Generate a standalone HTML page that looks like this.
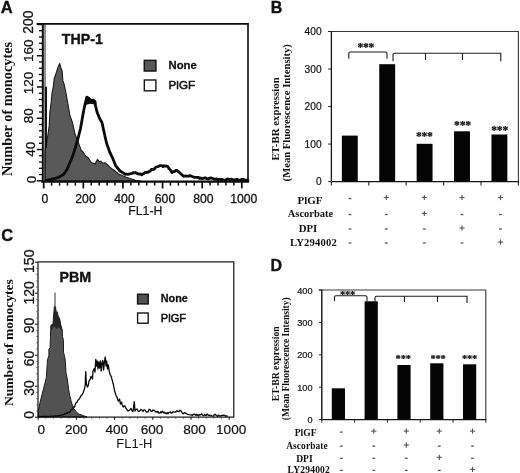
<!DOCTYPE html><html><head><meta charset="utf-8"><style>
html,body{margin:0;padding:0;background:#fff;overflow:hidden;}
svg{display:block;opacity:0.999;will-change:transform;}
text{font-family:"Liberation Sans",sans-serif;fill:#111;}
.s{font-family:"Liberation Serif",serif;font-weight:bold;}
.b{font-weight:bold;}
</style></head><body>
<svg width="520" height="473" viewBox="0 0 520 473">
<rect x="0" y="0" width="520" height="473" fill="#fff"/>
<g id="pA">
<text x="0.8" y="12.9" class="b" font-size="16.5" stroke="#111" stroke-width="0.35">A</text>
<polygon points="45.0,181.0 45.0,150.0 46.3,144.9 47.6,137.0 49.2,125.9 49.9,112.0 51.2,102.0 52.0,93.0 53.3,86.7 54.2,78.5 56.5,72.1 57.8,67.7 59.7,63.6 60.9,67.7 62.2,71.5 62.8,80.4 64.1,84.2 66.0,93.0 67.3,100.7 68.9,109.5 69.8,115.0 72.5,122.7 74.9,133.8 78.0,141.7 81.2,150.2 83.0,152.0 85.9,156.3 88.0,157.5 91.3,162.5 95.1,164.0 97.5,159.3 99.0,161.8 101.0,161.4 102.9,163.2 105.0,162.8 107.5,164.6 109.0,166.4 111.6,168.7 114.0,170.0 118.5,174.1 126.3,177.2 135.5,180.3 141.0,181.0" fill="#595959" stroke="#1c1c1c" stroke-width="1.1" stroke-linejoin="round"/>
<polyline points="46.3,180.5 50.0,179.6 55.9,178.2 60.0,176.6 63.8,174.2 67.0,169.5 70.1,162.3 73.3,154.4 75.7,146.5 78.0,138.5 80.4,129.0 82.3,118.5 83.7,110.5 85.2,103.5 86.8,97.2 89.0,98.5 91.0,100.4 93.0,100.0 95.0,101.3 95.6,106.0 97.0,112.0 99.6,118.5 102.0,122.5 103.8,131.0 106.5,143.0 110.0,152.7 112.6,158.0 115.6,165.6 120.0,171.0 121.3,171.7 122.7,172.7 124.0,173.4 125.3,174.3 126.5,174.0 127.8,174.3 129.4,174.0 131.0,173.6 132.1,173.4 133.2,172.6 134.4,172.8 135.5,172.5 136.7,173.2 137.8,173.9 139.0,174.0 140.3,173.9 141.7,174.9 142.8,173.9 144.0,173.5 145.2,172.4 146.3,172.5 147.7,172.4 149.0,171.5 150.2,171.1 151.3,169.5 152.5,169.5 153.7,169.3 154.8,168.5 156.0,167.0 157.4,166.7 158.8,166.2 160.2,165.6 161.6,165.6 163.0,166.5 164.1,165.7 165.3,166.2 166.4,166.0 167.7,166.6 169.0,168.5 170.5,170.1 172.0,172.6 173.2,171.7 174.5,171.6 175.7,170.4 176.9,170.5 178.2,171.4 179.5,172.5 181.1,174.0 182.7,175.6 183.8,176.3 185.0,176.0 186.2,176.1 187.3,176.2 188.7,176.1 190.0,175.6 191.5,176.2 193.0,176.8 194.5,177.3 196.0,177.3 197.2,177.4 198.4,177.3 199.6,178.5 200.8,178.0 202.2,178.6 203.6,178.3 205.0,177.7 206.5,178.6 208.0,179.0 209.5,178.2 211.0,178.0 212.6,178.3 214.2,179.4 215.4,179.1 216.5,178.8 217.7,179.7 218.8,179.2 220.0,179.3 221.2,179.9 222.4,179.3 223.6,180.2 224.8,180.2 226.0,179.8 227.2,179.0 228.5,179.1 229.8,179.9 231.0,179.2 232.2,179.4 233.5,180.3 234.8,179.7 236.0,180.0 237.2,179.3 238.5,180.0 239.8,180.2 241.0,179.7 242.1,179.5 243.2,179.3 244.3,179.8 245.4,180.4 246.5,180.2 248.0,180.5" fill="none" stroke="#0a0a0a" stroke-width="2.8" stroke-linejoin="round" stroke-linecap="round"/>
<polygon points="85.3,105 86.3,97 88,96.6 91,99.2 95.2,100.4 96.4,106.5 93.5,104.3 90,103.8 87.5,104.5" fill="#0a0a0a"/>
<line x1="46" y1="86.7" x2="46" y2="148" stroke="#0a0a0a" stroke-width="1.9"/>
<line x1="36.7" y1="23.9" x2="248.8" y2="23.9" stroke="#0a0a0a" stroke-width="1.8"/>
<line x1="248" y1="23.4" x2="248" y2="182.6" stroke="#0a0a0a" stroke-width="1.6"/>
<line x1="41.4" y1="181.6" x2="248.8" y2="181.6" stroke="#0a0a0a" stroke-width="2.2"/>
<line x1="42.8" y1="23" x2="42.8" y2="182.3" stroke="#0a0a0a" stroke-width="2"/>
<line x1="45" y1="24" x2="45" y2="181" stroke="#0a0a0a" stroke-width="0.9"/>
<line x1="36.8" y1="180.80" x2="42" y2="180.80" stroke="#0a0a0a" stroke-width="1.5"/>
<line x1="39" y1="174.55" x2="42" y2="174.55" stroke="#0a0a0a" stroke-width="1.3"/>
<line x1="39" y1="168.29" x2="42" y2="168.29" stroke="#0a0a0a" stroke-width="1.3"/>
<line x1="39" y1="162.04" x2="42" y2="162.04" stroke="#0a0a0a" stroke-width="1.3"/>
<line x1="39" y1="155.78" x2="42" y2="155.78" stroke="#0a0a0a" stroke-width="1.3"/>
<line x1="36.8" y1="149.53" x2="42" y2="149.53" stroke="#0a0a0a" stroke-width="1.5"/>
<line x1="39" y1="143.28" x2="42" y2="143.28" stroke="#0a0a0a" stroke-width="1.3"/>
<line x1="39" y1="137.02" x2="42" y2="137.02" stroke="#0a0a0a" stroke-width="1.3"/>
<line x1="39" y1="130.77" x2="42" y2="130.77" stroke="#0a0a0a" stroke-width="1.3"/>
<line x1="39" y1="124.51" x2="42" y2="124.51" stroke="#0a0a0a" stroke-width="1.3"/>
<line x1="36.8" y1="118.26" x2="42" y2="118.26" stroke="#0a0a0a" stroke-width="1.5"/>
<line x1="39" y1="112.01" x2="42" y2="112.01" stroke="#0a0a0a" stroke-width="1.3"/>
<line x1="39" y1="105.75" x2="42" y2="105.75" stroke="#0a0a0a" stroke-width="1.3"/>
<line x1="39" y1="99.50" x2="42" y2="99.50" stroke="#0a0a0a" stroke-width="1.3"/>
<line x1="39" y1="93.24" x2="42" y2="93.24" stroke="#0a0a0a" stroke-width="1.3"/>
<line x1="36.8" y1="86.99" x2="42" y2="86.99" stroke="#0a0a0a" stroke-width="1.5"/>
<line x1="39" y1="80.74" x2="42" y2="80.74" stroke="#0a0a0a" stroke-width="1.3"/>
<line x1="39" y1="74.48" x2="42" y2="74.48" stroke="#0a0a0a" stroke-width="1.3"/>
<line x1="39" y1="68.23" x2="42" y2="68.23" stroke="#0a0a0a" stroke-width="1.3"/>
<line x1="39" y1="61.97" x2="42" y2="61.97" stroke="#0a0a0a" stroke-width="1.3"/>
<line x1="36.8" y1="55.72" x2="42" y2="55.72" stroke="#0a0a0a" stroke-width="1.5"/>
<line x1="39" y1="49.47" x2="42" y2="49.47" stroke="#0a0a0a" stroke-width="1.3"/>
<line x1="39" y1="43.21" x2="42" y2="43.21" stroke="#0a0a0a" stroke-width="1.3"/>
<line x1="39" y1="36.96" x2="42" y2="36.96" stroke="#0a0a0a" stroke-width="1.3"/>
<line x1="39" y1="30.70" x2="42" y2="30.70" stroke="#0a0a0a" stroke-width="1.3"/>
<line x1="36.8" y1="24.45" x2="42" y2="24.45" stroke="#0a0a0a" stroke-width="1.5"/>
<line x1="43.70" y1="181" x2="43.70" y2="188.4" stroke="#0a0a0a" stroke-width="1.7"/>
<line x1="51.62" y1="181" x2="51.62" y2="185.6" stroke="#0a0a0a" stroke-width="1.5"/>
<line x1="59.55" y1="181" x2="59.55" y2="185.6" stroke="#0a0a0a" stroke-width="1.5"/>
<line x1="67.47" y1="181" x2="67.47" y2="185.6" stroke="#0a0a0a" stroke-width="1.5"/>
<line x1="75.40" y1="181" x2="75.40" y2="185.6" stroke="#0a0a0a" stroke-width="1.5"/>
<line x1="83.32" y1="181" x2="83.32" y2="188.4" stroke="#0a0a0a" stroke-width="1.7"/>
<line x1="91.24" y1="181" x2="91.24" y2="185.6" stroke="#0a0a0a" stroke-width="1.5"/>
<line x1="99.17" y1="181" x2="99.17" y2="185.6" stroke="#0a0a0a" stroke-width="1.5"/>
<line x1="107.09" y1="181" x2="107.09" y2="185.6" stroke="#0a0a0a" stroke-width="1.5"/>
<line x1="115.02" y1="181" x2="115.02" y2="185.6" stroke="#0a0a0a" stroke-width="1.5"/>
<line x1="122.94" y1="181" x2="122.94" y2="188.4" stroke="#0a0a0a" stroke-width="1.7"/>
<line x1="130.86" y1="181" x2="130.86" y2="185.6" stroke="#0a0a0a" stroke-width="1.5"/>
<line x1="138.79" y1="181" x2="138.79" y2="185.6" stroke="#0a0a0a" stroke-width="1.5"/>
<line x1="146.71" y1="181" x2="146.71" y2="185.6" stroke="#0a0a0a" stroke-width="1.5"/>
<line x1="154.64" y1="181" x2="154.64" y2="185.6" stroke="#0a0a0a" stroke-width="1.5"/>
<line x1="162.56" y1="181" x2="162.56" y2="188.4" stroke="#0a0a0a" stroke-width="1.7"/>
<line x1="170.48" y1="181" x2="170.48" y2="185.6" stroke="#0a0a0a" stroke-width="1.5"/>
<line x1="178.41" y1="181" x2="178.41" y2="185.6" stroke="#0a0a0a" stroke-width="1.5"/>
<line x1="186.33" y1="181" x2="186.33" y2="185.6" stroke="#0a0a0a" stroke-width="1.5"/>
<line x1="194.26" y1="181" x2="194.26" y2="185.6" stroke="#0a0a0a" stroke-width="1.5"/>
<line x1="202.18" y1="181" x2="202.18" y2="188.4" stroke="#0a0a0a" stroke-width="1.7"/>
<line x1="210.10" y1="181" x2="210.10" y2="185.6" stroke="#0a0a0a" stroke-width="1.5"/>
<line x1="218.03" y1="181" x2="218.03" y2="185.6" stroke="#0a0a0a" stroke-width="1.5"/>
<line x1="225.95" y1="181" x2="225.95" y2="185.6" stroke="#0a0a0a" stroke-width="1.5"/>
<line x1="233.88" y1="181" x2="233.88" y2="185.6" stroke="#0a0a0a" stroke-width="1.5"/>
<line x1="241.80" y1="181" x2="241.80" y2="188.4" stroke="#0a0a0a" stroke-width="1.7"/>
<text transform="translate(32.6,22.2) rotate(-90)" text-anchor="middle" font-size="13.8" stroke="#111" stroke-width="0.25">200</text>
<text transform="translate(32.6,50.7) rotate(-90)" text-anchor="middle" font-size="13.6" stroke="#111" stroke-width="0.25">160</text>
<text transform="translate(32.6,83.1) rotate(-90)" text-anchor="middle" font-size="13.5" stroke="#111" stroke-width="0.25">120</text>
<text transform="translate(32.6,115.8) rotate(-90)" text-anchor="middle" font-size="13.5" stroke="#111" stroke-width="0.25">80</text>
<text transform="translate(34.8,149.3) rotate(-90)" text-anchor="middle" font-size="13.5" stroke="#111" stroke-width="0.25">40</text>
<text transform="translate(35.7,179.5) rotate(-90)" text-anchor="middle" font-size="13.5" stroke="#111" stroke-width="0.25">0</text>
<text x="45" y="203.3" text-anchor="middle" font-size="12.2" stroke="#111" stroke-width="0.3">0</text>
<text x="85.5" y="203.3" text-anchor="middle" font-size="12.2" stroke="#111" stroke-width="0.3">200</text>
<text x="124.5" y="203.3" text-anchor="middle" font-size="12.2" stroke="#111" stroke-width="0.3">400</text>
<text x="165" y="203.3" text-anchor="middle" font-size="12.2" stroke="#111" stroke-width="0.3">600</text>
<text x="203.3" y="203.3" text-anchor="middle" font-size="12.2" stroke="#111" stroke-width="0.3">800</text>
<text x="243.7" y="203.3" text-anchor="middle" font-size="12.2" stroke="#111" stroke-width="0.3">1000</text>
<text x="145.3" y="215.4" text-anchor="middle" font-size="12.3" stroke="#111" stroke-width="0.2">FL1-H</text>
<text transform="translate(12.3,176) rotate(-90)" class="s" font-size="14" textLength="134.2" lengthAdjust="spacingAndGlyphs">Number of monocytes</text>
<text x="61.8" y="43.5" class="b" font-size="14.2" stroke="#111" stroke-width="0.35">THP-1</text>
<rect x="144.3" y="60.4" width="11.6" height="10.6" fill="#595959" stroke="#151515" stroke-width="1.5"/>
<rect x="144.3" y="80" width="11.6" height="10.8" fill="#fff" stroke="#151515" stroke-width="1.4"/>
<text x="168.5" y="69.3" class="b" font-size="11.3" stroke="#111" stroke-width="0.3">None</text>
<text x="168.6" y="89.3" font-size="11.6" stroke="#111" stroke-width="0.55">PlGF</text>
</g>
<g id="pC">
<text x="1.3" y="241.2" class="b" font-size="16.5" stroke="#111" stroke-width="0.35">C</text>
<polygon points="38.3,417.0 38.3,410.5 39.0,407.6 40.2,401.8 41.9,394.9 43.7,388.0 46.3,377.8 47.5,360.0 48.9,355.4 48.9,349.0 50.1,347.8 50.5,336.3 50.8,325.4 53.0,324.0 53.6,316.0 54.3,307.0 54.6,306.0 55.4,306.0 55.8,309.0 56.4,313.5 57.1,311.7 57.7,314.0 58.1,315.9 59.7,319.0 60.9,325.4 62.2,329.8 62.5,336.3 63.5,340.8 63.5,352.2 64.4,355.4 65.2,360.0 66.0,372.7 67.3,379.0 68.5,388.5 69.6,394.9 71.3,401.8 73.1,407.6 75.4,411.0 78.8,414.0 83.5,415.7 87.0,417.0" fill="#525252" stroke="#1d1d1d" stroke-width="1" stroke-linejoin="round"/>
<polygon points="51.2,331.0 51.2,325.6 53.0,324.0 53.6,316.0 54.3,307.0 54.6,306.0 55.4,306.0 55.8,309.0 56.4,313.5 57.1,311.7 57.7,314.0 58.1,315.9 59.7,319.0 60.9,325.4 62.0,331.0 58.5,327.0 56.5,329.0 54.0,326.0" fill="#262626"/>
<line x1="55" y1="292.4" x2="55" y2="307" stroke="#777" stroke-width="1.5"/>
<polyline points="38.5,416.6 39.3,416.4 40.0,416.6 40.8,416.5 41.6,416.6 42.3,416.6 43.1,416.3 43.9,416.2 44.6,416.6 45.4,416.3 46.2,416.3 46.9,416.6 47.7,416.3 48.5,416.5 49.2,416.3 50.0,416.3 50.8,416.3 51.5,416.0 52.3,416.2 53.1,416.3 53.8,416.0 54.6,416.1 55.4,416.0 56.2,415.7 56.9,415.9 57.7,415.8 58.5,415.6 59.2,415.4 60.0,415.6 60.8,415.4 61.6,414.9 62.5,414.9 63.3,414.8 64.1,414.2 64.9,413.5 65.7,414.0 66.5,412.8 67.2,413.3 68.0,412.5 68.8,411.9 69.5,412.3 70.3,411.8 71.1,409.7 71.8,409.2 72.6,409.5 73.5,407.0 74.5,407.0 75.4,404.0 76.2,402.7 77.1,402.1 78.0,400.0 78.8,399.5 79.7,398.3 80.5,396.6 81.4,395.2 82.3,394.5 83.1,392.8 83.8,390.8 84.6,388.5 85.2,385.0 85.7,371.6 86.4,384.0 87.3,387.0 88.2,385.9 89.0,381.0 90.0,379.6 91.1,376.3 92.5,379.0 93.0,371.0 94.2,368.5 95.0,372.0 95.8,359.3 96.6,366.0 97.3,361.0 98.0,369.0 98.8,362.0 99.6,368.0 100.4,361.0 101.2,371.0 102.0,363.0 102.8,360.5 103.6,370.0 104.4,362.0 105.2,357.0 106.0,366.0 106.7,361.0 107.5,369.0 108.3,365.0 109.3,371.6 110.3,375.0 111.2,376.3 112.4,380.9 113.5,385.0 114.5,390.5 115.4,393.2 116.2,396.1 117.0,397.0 117.8,400.2 118.5,401.0 119.5,399.0 120.5,404.0 121.5,402.0 122.3,404.9 123.2,407.1 124.1,405.8 125.0,406.0 126.0,408.6 127.0,409.5 127.8,410.8 128.5,410.9 129.3,410.2 130.2,409.5 131.0,408.5 132.0,410.5 133.0,411.5 134.3,401.7 135.0,411.0 136.0,409.3 137.0,409.0 138.0,411.0 139.0,411.5 140.0,410.7 141.0,409.5 142.0,410.0 143.0,411.5 144.0,409.7 145.0,410.0 146.0,411.8 147.0,412.0 148.0,411.9 149.0,409.5 150.0,409.5 151.0,411.3 152.0,411.3 153.0,410.0 153.9,410.5 154.7,410.5 155.6,412.0 156.4,411.4 157.2,412.3 158.0,411.5 159.0,413.1 160.0,413.0 160.8,411.7 161.5,412.8 162.2,411.2 163.0,412.0 163.8,412.8 164.5,412.1 165.2,413.6 166.0,413.0 166.8,413.9 167.5,412.7 168.2,413.6 169.0,412.3 169.8,412.1 170.5,411.8 171.2,413.2 172.0,413.2 172.8,411.8 173.5,411.9 174.2,412.1 175.0,412.0 175.8,412.1 176.5,411.0 177.2,410.6 178.0,411.5 179.0,411.7 180.0,410.2 181.0,410.9 182.0,412.5 182.8,413.7 183.5,413.7 184.2,412.6 185.0,413.0 185.8,413.2 186.5,413.7 187.2,414.3 188.0,414.3 189.0,414.7 189.9,414.8 190.9,414.9 191.7,415.0 192.4,415.6 193.2,414.4 194.0,414.2 194.8,414.3 195.5,415.2 196.2,414.3 197.0,415.2 197.8,414.6 198.5,416.0 199.2,414.8 200.0,414.6 200.8,414.9 201.6,413.8 202.4,414.9 203.2,415.5 204.0,415.5 204.8,414.3 205.6,415.5 206.4,415.4 207.2,414.0 208.0,414.9 208.8,415.4 209.6,415.2 210.4,415.9 211.2,415.3 212.0,415.8 212.8,416.2 213.6,416.1 214.4,414.3 215.2,414.3 216.0,415.2 216.8,415.8 217.6,416.6 218.4,415.1 219.2,415.7 220.0,416.0 220.8,416.1 221.6,415.4 222.4,415.4 223.2,415.2 224.0,415.5 224.9,415.4 225.8,416.2 226.6,415.7 227.5,416.4" fill="none" stroke="#0a0a0a" stroke-width="1.3" stroke-linejoin="round"/>
<rect x="38" y="261.9" width="195.8" height="155.2" fill="none" stroke="#0a0a0a" stroke-width="1.15"/>
<line x1="38.20" y1="417" x2="38.20" y2="419.8" stroke="#0a0a0a" stroke-width="1"/>
<line x1="45.84" y1="417" x2="45.84" y2="418.8" stroke="#444" stroke-width="0.8"/>
<line x1="53.48" y1="417" x2="53.48" y2="418.8" stroke="#444" stroke-width="0.8"/>
<line x1="61.12" y1="417" x2="61.12" y2="418.8" stroke="#444" stroke-width="0.8"/>
<line x1="68.76" y1="417" x2="68.76" y2="418.8" stroke="#444" stroke-width="0.8"/>
<line x1="76.40" y1="417" x2="76.40" y2="419.8" stroke="#0a0a0a" stroke-width="1"/>
<line x1="84.04" y1="417" x2="84.04" y2="418.8" stroke="#444" stroke-width="0.8"/>
<line x1="91.68" y1="417" x2="91.68" y2="418.8" stroke="#444" stroke-width="0.8"/>
<line x1="99.32" y1="417" x2="99.32" y2="418.8" stroke="#444" stroke-width="0.8"/>
<line x1="106.96" y1="417" x2="106.96" y2="418.8" stroke="#444" stroke-width="0.8"/>
<line x1="114.60" y1="417" x2="114.60" y2="419.8" stroke="#0a0a0a" stroke-width="1"/>
<line x1="122.24" y1="417" x2="122.24" y2="418.8" stroke="#444" stroke-width="0.8"/>
<line x1="129.88" y1="417" x2="129.88" y2="418.8" stroke="#444" stroke-width="0.8"/>
<line x1="137.52" y1="417" x2="137.52" y2="418.8" stroke="#444" stroke-width="0.8"/>
<line x1="145.16" y1="417" x2="145.16" y2="418.8" stroke="#444" stroke-width="0.8"/>
<line x1="152.80" y1="417" x2="152.80" y2="419.8" stroke="#0a0a0a" stroke-width="1"/>
<line x1="160.44" y1="417" x2="160.44" y2="418.8" stroke="#444" stroke-width="0.8"/>
<line x1="168.08" y1="417" x2="168.08" y2="418.8" stroke="#444" stroke-width="0.8"/>
<line x1="175.72" y1="417" x2="175.72" y2="418.8" stroke="#444" stroke-width="0.8"/>
<line x1="183.36" y1="417" x2="183.36" y2="418.8" stroke="#444" stroke-width="0.8"/>
<line x1="191.00" y1="417" x2="191.00" y2="419.8" stroke="#0a0a0a" stroke-width="1"/>
<line x1="198.64" y1="417" x2="198.64" y2="418.8" stroke="#444" stroke-width="0.8"/>
<line x1="206.28" y1="417" x2="206.28" y2="418.8" stroke="#444" stroke-width="0.8"/>
<line x1="213.92" y1="417" x2="213.92" y2="418.8" stroke="#444" stroke-width="0.8"/>
<line x1="221.56" y1="417" x2="221.56" y2="418.8" stroke="#444" stroke-width="0.8"/>
<line x1="229.20" y1="417" x2="229.20" y2="419.8" stroke="#0a0a0a" stroke-width="1"/>
<line x1="35" y1="417.20" x2="37.7" y2="417.20" stroke="#0a0a0a" stroke-width="1"/>
<line x1="36.2" y1="411.00" x2="37.7" y2="411.00" stroke="#444" stroke-width="0.8"/>
<line x1="36.2" y1="404.80" x2="37.7" y2="404.80" stroke="#444" stroke-width="0.8"/>
<line x1="36.2" y1="398.60" x2="37.7" y2="398.60" stroke="#444" stroke-width="0.8"/>
<line x1="36.2" y1="392.40" x2="37.7" y2="392.40" stroke="#444" stroke-width="0.8"/>
<line x1="35" y1="386.20" x2="37.7" y2="386.20" stroke="#0a0a0a" stroke-width="1"/>
<line x1="36.2" y1="380.00" x2="37.7" y2="380.00" stroke="#444" stroke-width="0.8"/>
<line x1="36.2" y1="373.80" x2="37.7" y2="373.80" stroke="#444" stroke-width="0.8"/>
<line x1="36.2" y1="367.60" x2="37.7" y2="367.60" stroke="#444" stroke-width="0.8"/>
<line x1="36.2" y1="361.40" x2="37.7" y2="361.40" stroke="#444" stroke-width="0.8"/>
<line x1="35" y1="355.20" x2="37.7" y2="355.20" stroke="#0a0a0a" stroke-width="1"/>
<line x1="36.2" y1="349.00" x2="37.7" y2="349.00" stroke="#444" stroke-width="0.8"/>
<line x1="36.2" y1="342.80" x2="37.7" y2="342.80" stroke="#444" stroke-width="0.8"/>
<line x1="36.2" y1="336.60" x2="37.7" y2="336.60" stroke="#444" stroke-width="0.8"/>
<line x1="36.2" y1="330.40" x2="37.7" y2="330.40" stroke="#444" stroke-width="0.8"/>
<line x1="35" y1="324.20" x2="37.7" y2="324.20" stroke="#0a0a0a" stroke-width="1"/>
<line x1="36.2" y1="318.00" x2="37.7" y2="318.00" stroke="#444" stroke-width="0.8"/>
<line x1="36.2" y1="311.80" x2="37.7" y2="311.80" stroke="#444" stroke-width="0.8"/>
<line x1="36.2" y1="305.60" x2="37.7" y2="305.60" stroke="#444" stroke-width="0.8"/>
<line x1="36.2" y1="299.40" x2="37.7" y2="299.40" stroke="#444" stroke-width="0.8"/>
<line x1="35" y1="293.20" x2="37.7" y2="293.20" stroke="#0a0a0a" stroke-width="1"/>
<line x1="36.2" y1="287.00" x2="37.7" y2="287.00" stroke="#444" stroke-width="0.8"/>
<line x1="36.2" y1="280.80" x2="37.7" y2="280.80" stroke="#444" stroke-width="0.8"/>
<line x1="36.2" y1="274.60" x2="37.7" y2="274.60" stroke="#444" stroke-width="0.8"/>
<line x1="36.2" y1="268.40" x2="37.7" y2="268.40" stroke="#444" stroke-width="0.8"/>
<line x1="35" y1="262.20" x2="37.7" y2="262.20" stroke="#0a0a0a" stroke-width="1"/>
<text transform="translate(33.9,261.2) rotate(-90)" text-anchor="middle" font-size="14.2" stroke="#111" stroke-width="0.25">150</text>
<text transform="translate(34.2,292.9) rotate(-90)" text-anchor="middle" font-size="14" stroke="#111" stroke-width="0.25">120</text>
<text transform="translate(34.2,325.4) rotate(-90)" text-anchor="middle" font-size="14" stroke="#111" stroke-width="0.25">90</text>
<text transform="translate(34.2,358.6) rotate(-90)" text-anchor="middle" font-size="13.8" stroke="#111" stroke-width="0.25">60</text>
<text transform="translate(34.2,388.1) rotate(-90)" text-anchor="middle" font-size="13.8" stroke="#111" stroke-width="0.25">30</text>
<text transform="translate(34.2,415) rotate(-90)" text-anchor="middle" font-size="13.8" stroke="#111" stroke-width="0.25">0</text>
<text x="41.3" y="434" text-anchor="middle" font-size="13.6" stroke="#111" stroke-width="0.2">0</text>
<text x="76.3" y="434" text-anchor="middle" font-size="13.6" stroke="#111" stroke-width="0.2">200</text>
<text x="116.8" y="434" text-anchor="middle" font-size="13.6" stroke="#111" stroke-width="0.2">400</text>
<text x="152" y="434" text-anchor="middle" font-size="13.6" stroke="#111" stroke-width="0.2">600</text>
<text x="194.5" y="434" text-anchor="middle" font-size="13.6" stroke="#111" stroke-width="0.2">800</text>
<text x="231.2" y="434" text-anchor="middle" font-size="13.6" stroke="#111" stroke-width="0.2">1000</text>
<text x="134.4" y="448.4" text-anchor="middle" font-size="13">FL1-H</text>
<text transform="translate(12.6,406.1) rotate(-90)" class="s" font-size="13.4" textLength="127" lengthAdjust="spacingAndGlyphs">Number of monocytes</text>
<text x="59.4" y="281.6" class="b" font-size="14.3" stroke="#111" stroke-width="0.35">PBM</text>
<rect x="137.6" y="294.3" width="10.6" height="9.6" fill="#525252" stroke="#151515" stroke-width="1.5"/>
<rect x="137.6" y="313" width="10.6" height="10.2" fill="#fff" stroke="#151515" stroke-width="1.4"/>
<text x="160.8" y="302.3" class="b" font-size="10.8" stroke="#111" stroke-width="0.3">None</text>
<text x="160.8" y="322" font-size="11.1" stroke="#111" stroke-width="0.55">PlGF</text>
</g>
<g id="pB">
<text x="270.8" y="13.2" class="b" font-size="16" stroke="#111" stroke-width="0.35">B</text>
<path d="M328.0,31.5 H518.4 V181.6" fill="none" stroke="#3a3a3a" stroke-width="1.1"/>
<path d="M331.4,31.0 V181.6 H518.9" fill="none" stroke="#151515" stroke-width="1.3"/>
<line x1="328.2" y1="181.60" x2="331.4" y2="181.60" stroke="#222" stroke-width="1"/>
<text x="321.6" y="185.30" text-anchor="end" font-size="10.2" stroke="#111" stroke-width="0.2">0</text>
<line x1="328.2" y1="144.07" x2="331.4" y2="144.07" stroke="#222" stroke-width="1"/>
<text x="321.6" y="147.77" text-anchor="end" font-size="10.2" stroke="#111" stroke-width="0.2">100</text>
<line x1="328.2" y1="106.55" x2="331.4" y2="106.55" stroke="#222" stroke-width="1"/>
<text x="321.6" y="110.25" text-anchor="end" font-size="10.2" stroke="#111" stroke-width="0.2">200</text>
<line x1="328.2" y1="69.03" x2="331.4" y2="69.03" stroke="#222" stroke-width="1"/>
<text x="321.6" y="72.73" text-anchor="end" font-size="10.2" stroke="#111" stroke-width="0.2">300</text>
<line x1="328.2" y1="31.50" x2="331.4" y2="31.50" stroke="#222" stroke-width="1"/>
<text x="321.6" y="35.20" text-anchor="end" font-size="10.2" stroke="#111" stroke-width="0.2">400</text>
<line x1="331.40" y1="181.6" x2="331.40" y2="185.5" stroke="#222" stroke-width="1.1"/>
<line x1="368.80" y1="181.6" x2="368.80" y2="185.5" stroke="#222" stroke-width="1.1"/>
<line x1="406.20" y1="181.6" x2="406.20" y2="185.5" stroke="#222" stroke-width="1.1"/>
<line x1="443.60" y1="181.6" x2="443.60" y2="185.5" stroke="#222" stroke-width="1.1"/>
<line x1="481.00" y1="181.6" x2="481.00" y2="185.5" stroke="#222" stroke-width="1.1"/>
<line x1="518.40" y1="181.6" x2="518.40" y2="185.5" stroke="#222" stroke-width="1.1"/>
<rect x="341.85" y="135.6" width="15.9" height="46.00" fill="#050505"/>
<rect x="379.25" y="64.2" width="15.9" height="117.40" fill="#050505"/>
<rect x="416.65" y="143.8" width="15.9" height="37.80" fill="#050505"/>
<rect x="454.05" y="131.3" width="15.9" height="50.30" fill="#050505"/>
<rect x="491.45" y="134.5" width="15.9" height="47.10" fill="#050505"/>
<path d="M348.8,58.8 V53.5 Q348.8,52 350.3,52 H385.5 Q387,52 387,53.5 V58.8" fill="none" stroke="#1c1c1c" stroke-width="1.1"/>
<path d="M393,61.2 V54.8 Q393,53.3 394.5,53.3 H500.8 V61.2 M425.5,53.3 V60 M462.5,53.3 V60" fill="none" stroke="#1c1c1c" stroke-width="1.1"/>
<text x="365.8" y="51.25" text-anchor="middle" class="s" font-size="11.6" letter-spacing="-0.2" fill="#000" stroke="#000" stroke-width="0.2">***</text>
<text x="424.3" y="140.45" text-anchor="middle" class="s" font-size="11.6" letter-spacing="-0.2" fill="#000" stroke="#000" stroke-width="0.2">***</text>
<text x="462.5" y="129.25" text-anchor="middle" class="s" font-size="11.6" letter-spacing="-0.2" fill="#000" stroke="#000" stroke-width="0.2">***</text>
<text x="499.6" y="133.75" text-anchor="middle" class="s" font-size="11.6" letter-spacing="-0.2" fill="#000" stroke="#000" stroke-width="0.2">***</text>
<text x="310" y="203.8" text-anchor="middle" class="s" font-size="11">PlGF</text>
<text x="310.5" y="217" text-anchor="middle" class="s" font-size="10.5">Ascorbate</text>
<text x="308" y="232.4" text-anchor="middle" class="s" font-size="10.8">DPI</text>
<text x="313.5" y="246.2" text-anchor="middle" class="s" font-size="10.6" letter-spacing="0.2">LY294002</text>
<line x1="348.6" y1="198.5" x2="351.4" y2="198.5" stroke="#555" stroke-width="1.3"/>
<line x1="383.7" y1="197.5" x2="388.90000000000003" y2="197.5" stroke="#555" stroke-width="1.1"/><line x1="386.3" y1="194.9" x2="386.3" y2="200.1" stroke="#555" stroke-width="1.1"/>
<line x1="421.7" y1="197.5" x2="426.90000000000003" y2="197.5" stroke="#555" stroke-width="1.1"/><line x1="424.3" y1="194.9" x2="424.3" y2="200.1" stroke="#555" stroke-width="1.1"/>
<line x1="459.4" y1="197.5" x2="464.6" y2="197.5" stroke="#555" stroke-width="1.1"/><line x1="462" y1="194.9" x2="462" y2="200.1" stroke="#555" stroke-width="1.1"/>
<line x1="497.9" y1="197.5" x2="503.1" y2="197.5" stroke="#555" stroke-width="1.1"/><line x1="500.5" y1="194.9" x2="500.5" y2="200.1" stroke="#555" stroke-width="1.1"/>
<line x1="348.6" y1="214.5" x2="351.4" y2="214.5" stroke="#555" stroke-width="1.3"/>
<line x1="384.90000000000003" y1="214.5" x2="387.7" y2="214.5" stroke="#555" stroke-width="1.3"/>
<line x1="421.7" y1="213.5" x2="426.90000000000003" y2="213.5" stroke="#555" stroke-width="1.1"/><line x1="424.3" y1="210.9" x2="424.3" y2="216.1" stroke="#555" stroke-width="1.1"/>
<line x1="460.6" y1="214.5" x2="463.4" y2="214.5" stroke="#555" stroke-width="1.3"/>
<line x1="499.1" y1="214.5" x2="501.9" y2="214.5" stroke="#555" stroke-width="1.3"/>
<line x1="348.6" y1="229" x2="351.4" y2="229" stroke="#555" stroke-width="1.3"/>
<line x1="384.90000000000003" y1="229" x2="387.7" y2="229" stroke="#555" stroke-width="1.3"/>
<line x1="422.90000000000003" y1="229" x2="425.7" y2="229" stroke="#555" stroke-width="1.3"/>
<line x1="459.4" y1="228" x2="464.6" y2="228" stroke="#555" stroke-width="1.1"/><line x1="462" y1="225.4" x2="462" y2="230.6" stroke="#555" stroke-width="1.1"/>
<line x1="499.1" y1="229" x2="501.9" y2="229" stroke="#555" stroke-width="1.3"/>
<line x1="348.6" y1="243" x2="351.4" y2="243" stroke="#555" stroke-width="1.3"/>
<line x1="384.90000000000003" y1="243" x2="387.7" y2="243" stroke="#555" stroke-width="1.3"/>
<line x1="422.90000000000003" y1="243" x2="425.7" y2="243" stroke="#555" stroke-width="1.3"/>
<line x1="460.6" y1="243" x2="463.4" y2="243" stroke="#555" stroke-width="1.3"/>
<line x1="497.9" y1="242" x2="503.1" y2="242" stroke="#555" stroke-width="1.1"/><line x1="500.5" y1="239.4" x2="500.5" y2="244.6" stroke="#555" stroke-width="1.1"/>
<text transform="translate(279.3,160.6) rotate(-90)" class="s" font-size="10.8" textLength="83.3" lengthAdjust="spacingAndGlyphs">ET-BR expression</text>
<text transform="translate(290.2,181.4) rotate(-90)" class="s" font-size="10.8" textLength="137.3" lengthAdjust="spacingAndGlyphs">(Mean Fluorescence Intensity)</text>
</g>
<g id="pD">
<text x="270.6" y="271.4" class="b" font-size="16" stroke="#111" stroke-width="0.35">D</text>
<path d="M318.8,290 H485.8 V419.6" fill="none" stroke="#3a3a3a" stroke-width="1.1"/>
<path d="M321.8,289.5 V419.6 H486.3" fill="none" stroke="#151515" stroke-width="1.4"/>
<line x1="319.0" y1="419.60" x2="321.8" y2="419.60" stroke="#222" stroke-width="1"/>
<text x="312.6" y="423.10" text-anchor="end" font-size="9.2" stroke="#111" stroke-width="0.2">0</text>
<line x1="319.0" y1="387.20" x2="321.8" y2="387.20" stroke="#222" stroke-width="1"/>
<text x="312.6" y="390.70" text-anchor="end" font-size="9.2" stroke="#111" stroke-width="0.2">100</text>
<line x1="319.0" y1="354.80" x2="321.8" y2="354.80" stroke="#222" stroke-width="1"/>
<text x="312.6" y="358.30" text-anchor="end" font-size="9.2" stroke="#111" stroke-width="0.2">200</text>
<line x1="319.0" y1="322.40" x2="321.8" y2="322.40" stroke="#222" stroke-width="1"/>
<text x="312.6" y="325.90" text-anchor="end" font-size="9.2" stroke="#111" stroke-width="0.2">300</text>
<line x1="319.0" y1="290.00" x2="321.8" y2="290.00" stroke="#222" stroke-width="1"/>
<text x="312.6" y="293.50" text-anchor="end" font-size="9.2" stroke="#111" stroke-width="0.2">400</text>
<line x1="321.80" y1="419.6" x2="321.80" y2="422.6" stroke="#222" stroke-width="1"/>
<line x1="354.60" y1="419.6" x2="354.60" y2="422.6" stroke="#222" stroke-width="1"/>
<line x1="387.40" y1="419.6" x2="387.40" y2="422.6" stroke="#222" stroke-width="1"/>
<line x1="420.20" y1="419.6" x2="420.20" y2="422.6" stroke="#222" stroke-width="1"/>
<line x1="453.00" y1="419.6" x2="453.00" y2="422.6" stroke="#222" stroke-width="1"/>
<line x1="485.80" y1="419.6" x2="485.80" y2="422.6" stroke="#222" stroke-width="1"/>
<rect x="331.80" y="388.3" width="13.2" height="31.30" fill="#050505"/>
<rect x="364.60" y="301.3" width="13.2" height="118.30" fill="#050505"/>
<rect x="397.40" y="365" width="13.2" height="54.60" fill="#050505"/>
<rect x="430.20" y="363.3" width="13.2" height="56.30" fill="#050505"/>
<rect x="463.00" y="364.3" width="13.2" height="55.30" fill="#050505"/>
<path d="M334.5,301.3 V297.2 Q334.5,295.8 336,295.8 H365.5 Q367,295.8 367,297.2 V301.3" fill="none" stroke="#1c1c1c" stroke-width="1.1"/>
<path d="M375,303 V297.8 Q375,296.3 376.5,296.3 H467 V303 M404.5,296.3 V302 M437.5,296.3 V302" fill="none" stroke="#1c1c1c" stroke-width="1.1"/>
<text x="347.6" y="297.54" text-anchor="middle" class="s" font-size="10.5" letter-spacing="-0.2" fill="#000" stroke="#000" stroke-width="0.2">***</text>
<text x="403.2" y="361.54" text-anchor="middle" class="s" font-size="10.5" letter-spacing="-0.2" fill="#000" stroke="#000" stroke-width="0.2">***</text>
<text x="438" y="361.54" text-anchor="middle" class="s" font-size="10.5" letter-spacing="-0.2" fill="#000" stroke="#000" stroke-width="0.2">***</text>
<text x="469.5" y="361.54" text-anchor="middle" class="s" font-size="10.5" letter-spacing="-0.2" fill="#000" stroke="#000" stroke-width="0.2">***</text>
<text x="305.6" y="436.3" text-anchor="middle" class="s" font-size="9.6">PlGF</text>
<text x="307" y="449.1" text-anchor="middle" class="s" font-size="9.4" letter-spacing="0.1">Ascorbate</text>
<text x="304.4" y="461.7" text-anchor="middle" class="s" font-size="9.6">DPI</text>
<text x="308.8" y="473.2" text-anchor="middle" class="s" font-size="9.5" letter-spacing="0.2">LY294002</text>
<line x1="339.90000000000003" y1="432.1" x2="342.7" y2="432.1" stroke="#555" stroke-width="1.3"/>
<line x1="371.2" y1="431.1" x2="376.40000000000003" y2="431.1" stroke="#555" stroke-width="1.1"/><line x1="373.8" y1="428.5" x2="373.8" y2="433.70000000000005" stroke="#555" stroke-width="1.1"/>
<line x1="403.7" y1="431.1" x2="408.90000000000003" y2="431.1" stroke="#555" stroke-width="1.1"/><line x1="406.3" y1="428.5" x2="406.3" y2="433.70000000000005" stroke="#555" stroke-width="1.1"/>
<line x1="436.7" y1="431.1" x2="441.90000000000003" y2="431.1" stroke="#555" stroke-width="1.1"/><line x1="439.3" y1="428.5" x2="439.3" y2="433.70000000000005" stroke="#555" stroke-width="1.1"/>
<line x1="469.9" y1="431.1" x2="475.1" y2="431.1" stroke="#555" stroke-width="1.1"/><line x1="472.5" y1="428.5" x2="472.5" y2="433.70000000000005" stroke="#555" stroke-width="1.1"/>
<line x1="339.90000000000003" y1="446.1" x2="342.7" y2="446.1" stroke="#555" stroke-width="1.3"/>
<line x1="372.40000000000003" y1="446.1" x2="375.2" y2="446.1" stroke="#555" stroke-width="1.3"/>
<line x1="403.7" y1="445.1" x2="408.90000000000003" y2="445.1" stroke="#555" stroke-width="1.1"/><line x1="406.3" y1="442.5" x2="406.3" y2="447.70000000000005" stroke="#555" stroke-width="1.1"/>
<line x1="437.90000000000003" y1="446.1" x2="440.7" y2="446.1" stroke="#555" stroke-width="1.3"/>
<line x1="471.1" y1="446.1" x2="473.9" y2="446.1" stroke="#555" stroke-width="1.3"/>
<line x1="339.90000000000003" y1="458.3" x2="342.7" y2="458.3" stroke="#555" stroke-width="1.3"/>
<line x1="372.40000000000003" y1="458.3" x2="375.2" y2="458.3" stroke="#555" stroke-width="1.3"/>
<line x1="404.90000000000003" y1="458.3" x2="407.7" y2="458.3" stroke="#555" stroke-width="1.3"/>
<line x1="436.7" y1="457.3" x2="441.90000000000003" y2="457.3" stroke="#555" stroke-width="1.1"/><line x1="439.3" y1="454.7" x2="439.3" y2="459.90000000000003" stroke="#555" stroke-width="1.1"/>
<line x1="471.1" y1="458.3" x2="473.9" y2="458.3" stroke="#555" stroke-width="1.3"/>
<line x1="339.90000000000003" y1="470.4" x2="342.7" y2="470.4" stroke="#555" stroke-width="1.3"/>
<line x1="372.40000000000003" y1="470.4" x2="375.2" y2="470.4" stroke="#555" stroke-width="1.3"/>
<line x1="404.90000000000003" y1="470.4" x2="407.7" y2="470.4" stroke="#555" stroke-width="1.3"/>
<line x1="437.90000000000003" y1="470.4" x2="440.7" y2="470.4" stroke="#555" stroke-width="1.3"/>
<line x1="469.9" y1="469.4" x2="475.1" y2="469.4" stroke="#555" stroke-width="1.1"/><line x1="472.5" y1="466.79999999999995" x2="472.5" y2="472.0" stroke="#555" stroke-width="1.1"/>
<text transform="translate(279,401.2) rotate(-90)" class="s" font-size="9.8" textLength="75" lengthAdjust="spacingAndGlyphs">ET-BR expression</text>
<text transform="translate(289.4,420.2) rotate(-90)" class="s" font-size="9.8" textLength="122.8" lengthAdjust="spacingAndGlyphs">(Mean Fluorescence Intensity)</text>
</g>
</svg></body></html>
